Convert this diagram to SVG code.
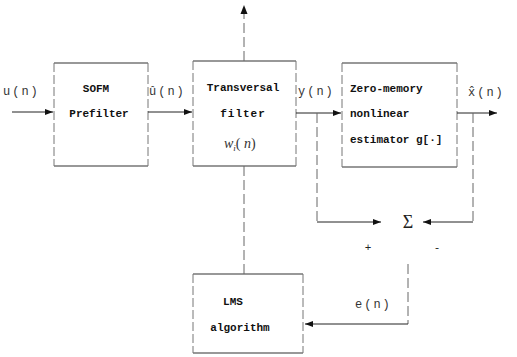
<svg xmlns="http://www.w3.org/2000/svg" width="517" height="357" viewBox="0 0 517 357">
<defs>
<marker id="ah" markerWidth="8" markerHeight="6" refX="8" refY="3" orient="auto" markerUnits="userSpaceOnUse">
<path d="M0,0 L8,3 L0,6 Z" fill="#111"/>
</marker>
</defs>
<style>
.tb{stroke:#333;stroke-width:1.2;fill:none}
.sd{stroke:#777;stroke-width:1;fill:none;stroke-dasharray:9 3}
.ln{stroke:#222;stroke-width:1;fill:none}
.dl{stroke:#666;stroke-width:1;fill:none;stroke-dasharray:10 4}
.bt{font-family:"Liberation Mono",monospace;font-weight:bold;font-size:11px;fill:#111}
.lb{font-family:"Liberation Mono",monospace;font-size:12px;fill:#333;letter-spacing:2px}
.it{font-family:"Liberation Serif",serif;font-style:italic;font-size:14px;fill:#333}
</style>
<rect width="517" height="357" fill="#fff"/>
<g id="sofm">
<path class="tb" d="M54,63 H148 M54,166 H148"/>
<path class="sd" d="M54,63 V166 M148,63 V166"/>
<text class="bt" x="96" y="92" text-anchor="middle">SOFM</text>
<text class="bt" x="99" y="117" text-anchor="middle">Prefilter</text>
</g>
<g id="transversal">
<path class="tb" d="M193,61 H296 M193,166 H296"/>
<path class="sd" d="M193,61 V166 M296,61 V166"/>
<text class="bt" x="243" y="91" text-anchor="middle" font-size="12">Transversal</text>
<text class="bt" x="243" y="117" text-anchor="middle" letter-spacing="1">filter</text>
<text class="it" x="224" y="148">w<tspan font-size="9" dy="3">i</tspan><tspan dy="-3" font-style="normal">( </tspan>n<tspan font-style="normal">)</tspan></text>
</g>
<g id="estimator">
<path class="tb" d="M342,63 H457 M342,167 H457"/>
<path class="sd" d="M342,63 V167 M457,63 V167"/>
<text class="bt" x="350" y="92">Zero-memory</text>
<text class="bt" x="350" y="117">nonlinear</text>
<text class="bt" x="350" y="143">estimator g[·]</text>
</g>
<g id="lms">
<path class="tb" d="M193,274 H303 M193,353 H303"/>
<path class="sd" d="M193,274 V353 M303,274 V353"/>
<text class="bt" x="233" y="305" text-anchor="middle">LMS</text>
<text class="bt" x="240" y="331" text-anchor="middle">algorithm</text>
</g>
<g id="sum">
<text x="408" y="228" text-anchor="middle" font-family="Liberation Serif,serif" font-size="18" fill="#222">Σ</text>
<text x="368" y="251" text-anchor="middle" font-family="Liberation Mono,monospace" font-size="11" fill="#222">+</text>
<text x="437" y="251" text-anchor="middle" font-family="Liberation Mono,monospace" font-size="11" fill="#222">-</text>
</g>
<g id="connectors">
<line class="ln" x1="12" y1="112" x2="53" y2="112" marker-end="url(#ah)"/>
<line class="ln" x1="148" y1="112" x2="192" y2="112" marker-end="url(#ah)"/>
<line class="ln" x1="296" y1="113" x2="341" y2="113" marker-end="url(#ah)"/>
<line class="ln" x1="457" y1="113" x2="497" y2="113" marker-end="url(#ah)"/>
<line class="dl" x1="244" y1="61" x2="244" y2="14"/>
<path d="M240.5,14 L244,5 L247.5,14 Z" fill="#111"/>
<line class="dl" x1="244" y1="166" x2="244" y2="274"/>
<path class="dl" d="M317,113 V222"/>
<line class="ln" x1="317" y1="222" x2="381" y2="222" marker-end="url(#ah)"/>
<path class="dl" d="M473,113 V222"/>
<line class="ln" x1="473" y1="222" x2="423" y2="222" marker-end="url(#ah)"/>
<path class="dl" d="M408,264 V324"/>
<line class="ln" x1="408" y1="324" x2="305" y2="324" marker-end="url(#ah)"/>
</g>
<g id="labels">
<text class="lb" x="3" y="95">u(n)</text>
<text class="lb" x="149" y="95">û(n)</text>
<text class="lb" x="298" y="95">y(n)</text>
<text class="lb" x="468" y="96">x̂(n)</text>
<text class="lb" x="355" y="308">e(n)</text>
</g>
</svg>
